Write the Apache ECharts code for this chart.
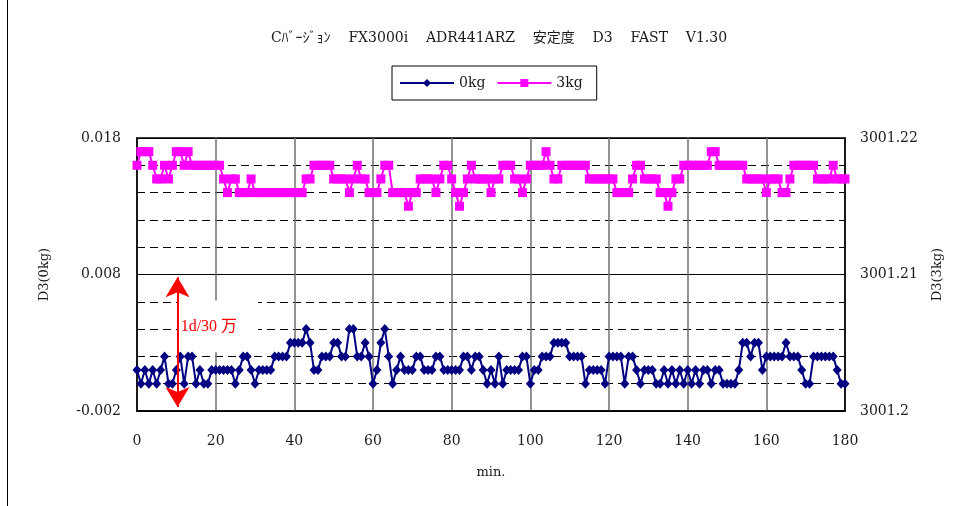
<!DOCTYPE html>
<html>
<head>
<meta charset="utf-8">
<script src="https://cdn.jsdelivr.net/npm/echarts@6/dist/echarts.min.js"></script>
<style>
html,body{margin:0;padding:0;background:#fff;}
#c{width:973px;height:506px;}
</style>
</head>
<body>
<div id="c"></div>
<script>
// ---- data ----
const titleText = 'Cﾊﾞｰｼﾞｮﾝ    FX3000i    ADR441ARZ    安定度    D3    FAST    V1.30';
const seriesNames = ['0kg', '3kg'];
const xTicks = [0, 20, 40, 60, 80, 100, 120, 140, 160, 180];
const leftTicks = [-0.002, 0.008, 0.018];
const rightTicks = [3001.2, 3001.21, 3001.22];
const annotationText = '1d/30 万';

const d0kg = [
  0.001,0,0.001,0,0.001,0,0.001,0.002,0,0,
  0.001,0.002,0,0.002,0.002,0,0.001,0,0,0.001,
  0.001,0.001,0.001,0.001,0.001,0,0.001,0.002,0.002,0.001,
  0,0.001,0.001,0.001,0.001,0.002,0.002,0.002,0.002,0.003,
  0.003,0.003,0.003,0.004,0.003,0.001,0.001,0.002,0.002,0.002,
  0.003,0.003,0.002,0.002,0.004,0.004,0.002,0.002,0.003,0.002,
  0,0.001,0.003,0.004,0.002,0,0.001,0.002,0.001,0.001,
  0.001,0.002,0.002,0.001,0.001,0.001,0.002,0.002,0.001,0.001,
  0.001,0.001,0.001,0.002,0.002,0.001,0.002,0.002,0.001,0,
  0.001,0,0.002,0,0.001,0.001,0.001,0.001,0.002,0.002,
  0,0.001,0.001,0.002,0.002,0.002,0.003,0.003,0.003,0.003,
  0.002,0.002,0.002,0.002,0,0.001,0.001,0.001,0.001,0,
  0.002,0.002,0.002,0.002,0,0.002,0.002,0.001,0,0.001,
  0.001,0.001,0,0,0.001,0,0.001,0,0.001,0,
  0.001,0,0.001,0,0.001,0.001,0,0.001,0.001,0,
  0,0,0,0.001,0.003,0.003,0.002,0.003,0.003,0.001,
  0.002,0.002,0.002,0.002,0.002,0.003,0.002,0.002,0.002,0.001,
  0,0,0.002,0.002,0.002,0.002,0.002,0.002,0.001,0,
  0
];

const d3kg = [
  3001.218,3001.219,3001.219,3001.219,3001.218,3001.217,3001.217,3001.218,3001.217,3001.218,
  3001.219,3001.219,3001.218,3001.219,3001.218,3001.218,3001.218,3001.218,3001.218,3001.218,
  3001.218,3001.218,3001.217,3001.216,3001.217,3001.217,3001.216,3001.216,3001.216,3001.217,
  3001.216,3001.216,3001.216,3001.216,3001.216,3001.216,3001.216,3001.216,3001.216,3001.216,
  3001.216,3001.216,3001.216,3001.217,3001.217,3001.218,3001.218,3001.218,3001.218,3001.218,
  3001.217,3001.217,3001.217,3001.217,3001.216,3001.217,3001.218,3001.217,3001.217,3001.216,
  3001.216,3001.216,3001.217,3001.218,3001.218,3001.216,3001.216,3001.216,3001.216,3001.215,
  3001.216,3001.216,3001.217,3001.217,3001.217,3001.217,3001.216,3001.217,3001.218,3001.218,
  3001.217,3001.216,3001.215,3001.216,3001.217,3001.218,3001.217,3001.217,3001.217,3001.217,
  3001.216,3001.217,3001.217,3001.218,3001.218,3001.218,3001.217,3001.217,3001.216,3001.217,
  3001.218,3001.218,3001.218,3001.218,3001.219,3001.218,3001.217,3001.217,3001.218,3001.218,
  3001.218,3001.218,3001.218,3001.218,3001.218,3001.217,3001.217,3001.217,3001.217,3001.217,
  3001.217,3001.217,3001.216,3001.216,3001.216,3001.216,3001.217,3001.218,3001.218,3001.217,
  3001.217,3001.217,3001.217,3001.216,3001.216,3001.215,3001.216,3001.217,3001.217,3001.218,
  3001.218,3001.218,3001.218,3001.218,3001.218,3001.218,3001.219,3001.219,3001.218,3001.218,
  3001.218,3001.218,3001.218,3001.218,3001.218,3001.217,3001.217,3001.217,3001.217,3001.217,
  3001.216,3001.217,3001.217,3001.217,3001.216,3001.216,3001.217,3001.218,3001.218,3001.218,
  3001.218,3001.218,3001.218,3001.217,3001.217,3001.217,3001.217,3001.218,3001.217,3001.217,
  3001.217
];

// annotation arrow (minute, top value, bottom value) on left axis
const arrowX = [10.3];
const arrowY = [0.0078, -0.0017];

// ---- chart ----
const FONT = '"DejaVu Serif", "Noto Sans CJK JP", serif';
const chart = echarts.init(document.getElementById('c'), null, {renderer: 'canvas'});

function fmt(v) { return String(+(+v).toFixed(3)); }

const option = {
  animation: false,
  backgroundColor: '#fff',
  title: {
    text: titleText,
    left: 494,
    textAlign: 'center',
    top: 26,
    textStyle: {fontFamily: FONT, fontSize: 14, fontWeight: 'normal', color: '#1a1a1a'}
  },
  legend: {
    data: seriesNames,
    left: 392,
    top: 66,
    orient: 'horizontal',
    padding: [10, 14, 10, 7],
    itemGap: 11,
    itemWidth: 54,
    itemHeight: 10,
    borderColor: '#000',
    borderWidth: 1,
    borderRadius: 0,
    textStyle: {fontFamily: FONT, fontSize: 14, color: '#1a1a1a'}
  },
  grid: {
    left: 137, right: 128, top: 138, bottom: 95,
    show: true, borderColor: '#000', borderWidth: 1.5, backgroundColor: 'transparent'
  },
  xAxis: {
    type: 'value', min: 0, max: 180, interval: 20,
    name: 'min.', nameLocation: 'middle', nameGap: 55,
    nameTextStyle: {fontFamily: FONT, fontSize: 13, color: '#1a1a1a'},
    axisLine: {show: true, onZero: false, lineStyle: {color: '#000', width: 1.5}},
    axisTick: {show: false},
    axisLabel: {margin: 23, fontFamily: FONT, fontSize: 14, color: '#1a1a1a',
      formatter: v => xTicks.includes(v) ? String(v) : ''},
    splitLine: {show: true, lineStyle: {color: '#6f6f6f', width: 1.5}}
  },
  yAxis: [
    {
      type: 'value', min: leftTicks[0], max: leftTicks[2], interval: 0.01,
      position: 'left',
      name: 'D3(0kg)', nameLocation: 'middle', nameGap: 86, nameRotate: 90,
      nameTextStyle: {fontFamily: FONT, fontSize: 13, color: '#1a1a1a'},
      axisLine: {show: true, lineStyle: {color: '#000', width: 1.5}},
      axisTick: {show: false},
      axisLabel: {margin: 16, fontFamily: FONT, fontSize: 14, color: '#1a1a1a', formatter: v => (+v).toFixed(3)},
      splitLine: {show: true, lineStyle: {color: '#000', width: 1}},
      minorTick: {show: false, splitNumber: 5},
      minorSplitLine: {show: true, lineStyle: {color: '#000', width: 1, type: [8, 5]}}
    },
    {
      type: 'value', min: rightTicks[0], max: rightTicks[2], interval: 0.01,
      position: 'right',
      name: 'D3(3kg)', nameLocation: 'middle', nameGap: 86, nameRotate: 90,
      nameTextStyle: {fontFamily: FONT, fontSize: 13, color: '#1a1a1a'},
      axisLine: {show: true, lineStyle: {color: '#000', width: 1.5}},
      axisTick: {show: false},
      axisLabel: {margin: 15, fontFamily: FONT, fontSize: 14, color: '#1a1a1a', formatter: fmt},
      splitLine: {show: false}
    }
  ],
  series: [
    {
      name: seriesNames[0], type: 'line', yAxisIndex: 0,
      data: d0kg.map((v, i) => [i, v]),
      symbol: 'diamond', symbolSize: [9, 10], showAllSymbol: true,
      itemStyle: {color: '#000080'},
      lineStyle: {color: '#000080', width: 2},
      z: 3,
      markLine: {
        silent: true, animation: false,
        symbol: ['arrow', 'arrow'], symbolSize: [18, 20],
        lineStyle: {color: '#FF0000', width: 2, type: 'solid'},
        label: {show: false},
        data: [[{coord: [arrowX[0], arrowY[0]]}, {coord: [arrowX[0], arrowY[1]]}]]
      }
    },
    {
      name: seriesNames[1], type: 'line', yAxisIndex: 1,
      data: d3kg.map((v, i) => [i, v]),
      symbol: 'rect', symbolSize: 9, showAllSymbol: true,
      itemStyle: {color: '#FF00FF'},
      lineStyle: {color: '#FF00FF', width: 2},
      z: 2
    }
  ]
};
chart.setOption(option);

// annotation box + text placed through the axes
const pA = chart.convertToPixel({xAxisIndex: 0, yAxisIndex: 0}, [10.4, 0.0061]);
const pB = chart.convertToPixel({xAxisIndex: 0, yAxisIndex: 0}, [30.8, 0.0023]);
const pT = chart.convertToPixel({xAxisIndex: 0, yAxisIndex: 0}, [11.1, 0.0042]);
chart.setOption({
  graphic: [
    {type: 'rect', z: 1, silent: true,
     shape: {x: pA[0], y: pA[1], width: pB[0] - pA[0], height: pB[1] - pA[1]},
     style: {fill: '#fff'}},
    {type: 'line', z: 0, silent: true,
     shape: {x1: 7.5, y1: 0, x2: 7.5, y2: 506},
     style: {stroke: '#000', lineWidth: 1}},
    {type: 'text', z: 5, silent: true,
     x: pT[0], y: pT[1],
     style: {text: annotationText, fill: '#FF0000', font: '16px "Liberation Serif", "Noto Sans CJK JP", serif',
             textAlign: 'left', textVerticalAlign: 'middle'}}
  ]
});
</script>
</body>
</html>
